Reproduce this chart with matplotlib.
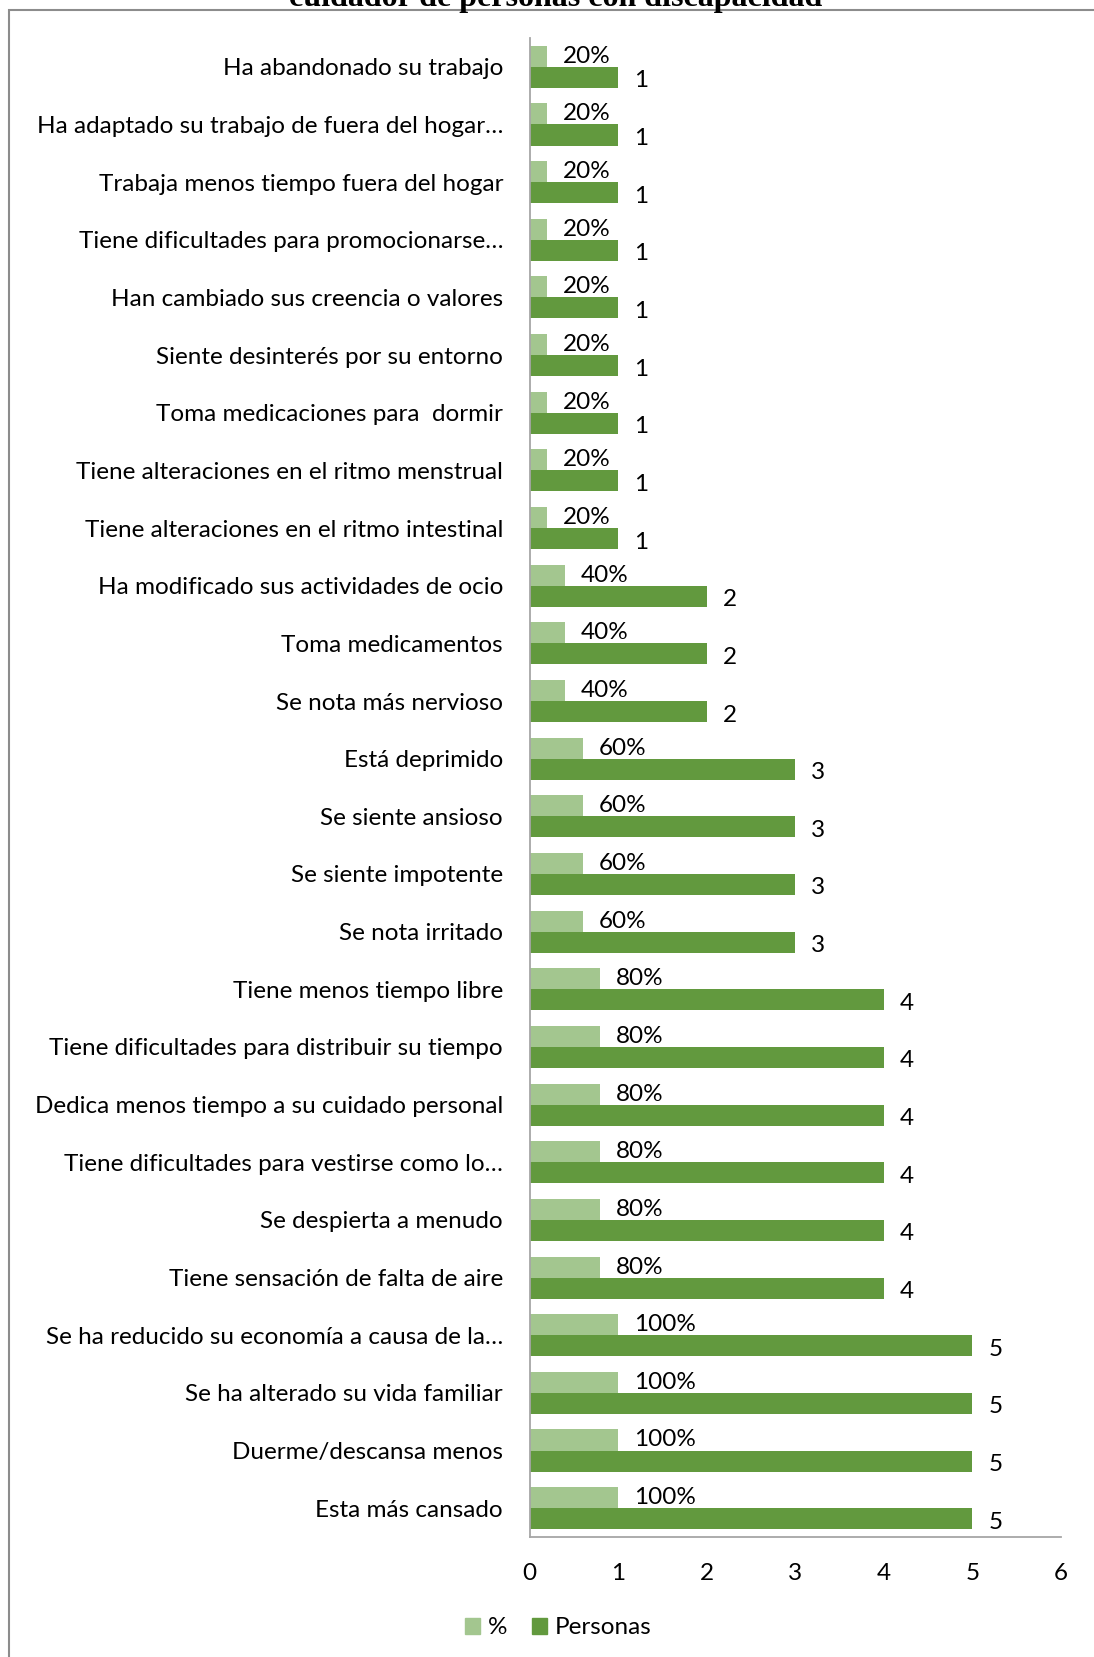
import matplotlib
matplotlib.use("Agg")
import matplotlib.pyplot as plt
from matplotlib.patches import Rectangle, Patch

categories = [
    "Ha abandonado su trabajo",
    "Ha adaptado su trabajo de fuera del hogar…",
    "Trabaja menos tiempo fuera del hogar",
    "Tiene dificultades para promocionarse…",
    "Han cambiado sus creencia o valores",
    "Siente desinterés por su entorno",
    "Toma medicaciones para  dormir",
    "Tiene alteraciones en el ritmo menstrual",
    "Tiene alteraciones en el ritmo intestinal",
    "Ha modificado sus actividades de ocio",
    "Toma medicamentos",
    "Se nota más nervioso",
    "Está deprimido",
    "Se siente ansioso",
    "Se siente impotente",
    "Se nota irritado",
    "Tiene menos tiempo libre",
    "Tiene dificultades para distribuir su tiempo",
    "Dedica menos tiempo a su cuidado personal",
    "Tiene dificultades para vestirse como lo…",
    "Se despierta a menudo",
    "Tiene sensación de falta de aire",
    "Se ha reducido su economía a causa de la…",
    "Se ha alterado su vida familiar",
    "Duerme/descansa menos",
    "Esta más cansado",
]
personas = [1, 1, 1, 1, 1, 1, 1, 1, 1, 2, 2, 2, 3, 3, 3, 3, 4, 4, 4, 4, 4, 4, 5, 5, 5, 5]
porcentaje = [0.2, 0.2, 0.2, 0.2, 0.2, 0.2, 0.2, 0.2, 0.2, 0.4, 0.4, 0.4,
              0.6, 0.6, 0.6, 0.6, 0.8, 0.8, 0.8, 0.8, 0.8, 0.8, 1.0, 1.0, 1.0, 1.0]
pct_labels = ["20%"] * 9 + ["40%"] * 3 + ["60%"] * 4 + ["80%"] * 6 + ["100%"] * 4
xticks = [0, 1, 2, 3, 4, 5, 6]
legend_labels = ["%", "Personas"]
title_text = "cuidador de personas con discapacidad"

light = "#A3C68F"
dark = "#62993E"
FONT = "Lato"
FS = 17.5

plt.rcParams["font.family"] = [FONT, "DejaVu Sans"]

fig = plt.figure(figsize=(10.94, 16.57), dpi=100)
W, H = 1094, 1657
ax = fig.add_axes([529.5 / W, 1 - 1537 / H, (1061 - 529.5) / W, (1537 - 38) / H])

ys = list(range(len(categories)))
bh = 0.365
ax.barh([y - bh / 2 for y in ys], porcentaje, height=bh, color=light, zorder=2)
ax.barh([y + bh / 2 for y in ys], personas, height=bh, color=dark, zorder=2)

for y, v, lab in zip(ys, porcentaje, pct_labels):
    ax.annotate(lab, (v, y - bh / 2), xytext=(11.5, 0), textcoords="offset points",
                ha="left", va="center", fontsize=FS, color="black")
for y, v in zip(ys, personas):
    ax.annotate(str(v), (v, y + bh / 2), xytext=(11.5, -2.5), textcoords="offset points",
                ha="left", va="center", fontsize=FS, color="black")

ax.set_ylim(len(categories) - 0.5, -0.5)
ax.set_xlim(0, 6)
ax.set_yticks(ys)
ax.set_yticklabels(categories, fontsize=FS)
ax.set_xticks(xticks)
ax.set_xticklabels([str(t) for t in xticks], fontsize=FS)
ax.tick_params(axis="both", length=0)
ax.tick_params(axis="y", pad=19)
ax.tick_params(axis="x", pad=19)
for s in ["top", "right"]:
    ax.spines[s].set_visible(False)
ax.spines["left"].set_color("#A6A6A6")
ax.spines["bottom"].set_color("#A6A6A6")
ax.spines["left"].set_linewidth(1.3)
ax.spines["bottom"].set_linewidth(1.3)

handles = [Patch(color=light), Patch(color=dark)]
fig.legend(handles, legend_labels, loc="center", bbox_to_anchor=(558 / W, 1 - 1628 / H),
           ncol=2, frameon=False, fontsize=FS, handlelength=0.65, handleheight=0.65,
           handletextpad=0.3, columnspacing=1.0)

# outer frame (top and left visible)
fig.add_artist(Rectangle((8.5 / W, -0.1), 1.2, 1 - 9.5 / H + 0.1, transform=fig.transFigure,
                         fill=False, edgecolor="#8C8C8C", linewidth=1.5))

# clipped title
fig.text(556 / W, 1 - 6 / H, title_text, ha="center", va="baseline",
         fontsize=23, fontweight="bold", family="Liberation Serif")

fig.savefig("out.png", dpi=100)
